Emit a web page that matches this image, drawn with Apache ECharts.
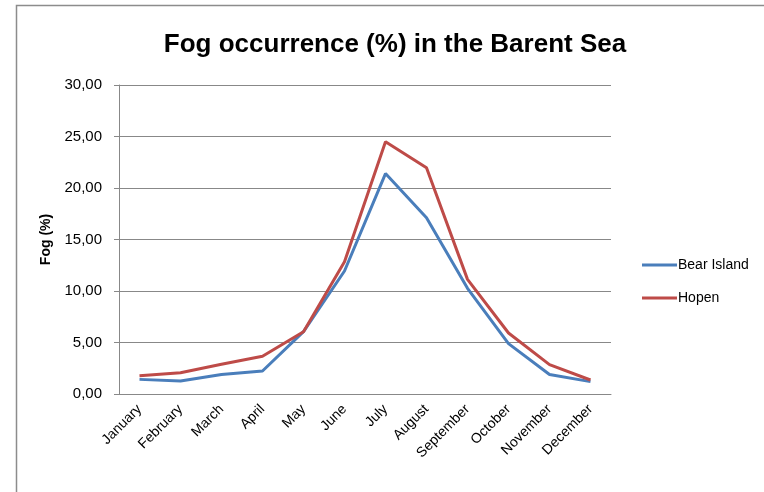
<!DOCTYPE html>
<html>
<head>
<meta charset="utf-8">
<script src="https://cdn.jsdelivr.net/npm/echarts@6/dist/echarts.min.js"></script>
<style>
html,body{margin:0;padding:0;background:#fff;}
#c{width:764px;height:492px;}
</style>
</head>
<body>
<div id="c"></div>
<script>
var months = ['January','February','March','April','May','June','July','August','September','October','November','December'];
var bearIsland = [1.42, 1.26, 1.90, 2.23, 6.05, 11.94, 21.40, 17.12, 10.26, 4.89, 1.90, 1.20];
var hopen = [1.78, 2.07, 2.88, 3.66, 6.05, 12.85, 24.50, 21.97, 11.13, 5.92, 2.85, 1.36];
var yTicks = { min: 0, max: 30, interval: 5 };

var FONT = "'Liberation Sans', sans-serif";
var chart = echarts.init(document.getElementById('c'), null, {renderer: 'canvas'});
chart.setOption({
  animation: false,
  backgroundColor: '#fff',
  graphic: [{
    type: 'rect',
    shape: {x: 16.5, y: 5.5, width: 800, height: 600},
    style: {fill: 'none', stroke: '#8c8c8c', lineWidth: 1.5},
    silent: true
  }],
  title: {
    text: 'Fog occurrence (%) in the Barent Sea',
    left: 390, textAlign: 'center', top: 27,
    textStyle: {fontFamily: FONT, fontSize: 26, fontWeight: 'bold', color: '#000'}
  },
  legend: {
    orient: 'vertical', left: 637, top: 253,
    itemWidth: 35, itemHeight: 3, itemGap: 19, icon: 'rect',
    textStyle: {fontFamily: FONT, fontSize: 14, color: '#000', padding: [0,0,0,-4]},
    data: ['Bear Island', 'Hopen']
  },
  grid: {left: 119, right: 153, top: 85, bottom: 98},
  xAxis: {
    type: 'category', data: months, boundaryGap: true,
    axisLine: {lineStyle: {color: '#888', width: 1}},
    axisTick: {show: false},
    axisLabel: {rotate: 45, interval: 0, margin: 13, fontFamily: FONT, fontSize: 14, color: '#000'}
  },
  yAxis: {
    type: 'value', min: yTicks.min, max: yTicks.max, interval: yTicks.interval,
    name: 'Fog (%)', nameLocation: 'middle', nameGap: 64, nameRotate: 90,
    nameTextStyle: {fontFamily: FONT, fontSize: 14, fontWeight: 'bold', color: '#000'},
    axisLine: {show: true, lineStyle: {color: '#888'}},
    axisTick: {show: true, length: 5, lineStyle: {color: '#888'}},
    splitLine: {lineStyle: {color: '#888', width: 1}},
    axisLabel: {margin: 17, fontFamily: FONT, fontSize: 15, color: '#000',
      formatter: function(v){ return v.toFixed(2).replace('.', ','); }}
  },
  series: [
    {name: 'Bear Island', type: 'line', data: bearIsland, symbol: 'none',
     lineStyle: {color: '#4A7EBB', width: 3}, itemStyle: {color: '#4A7EBB'}},
    {name: 'Hopen', type: 'line', data: hopen, symbol: 'none',
     lineStyle: {color: '#BE4B48', width: 3}, itemStyle: {color: '#BE4B48'}}
  ]
});
</script>
</body>
</html>
